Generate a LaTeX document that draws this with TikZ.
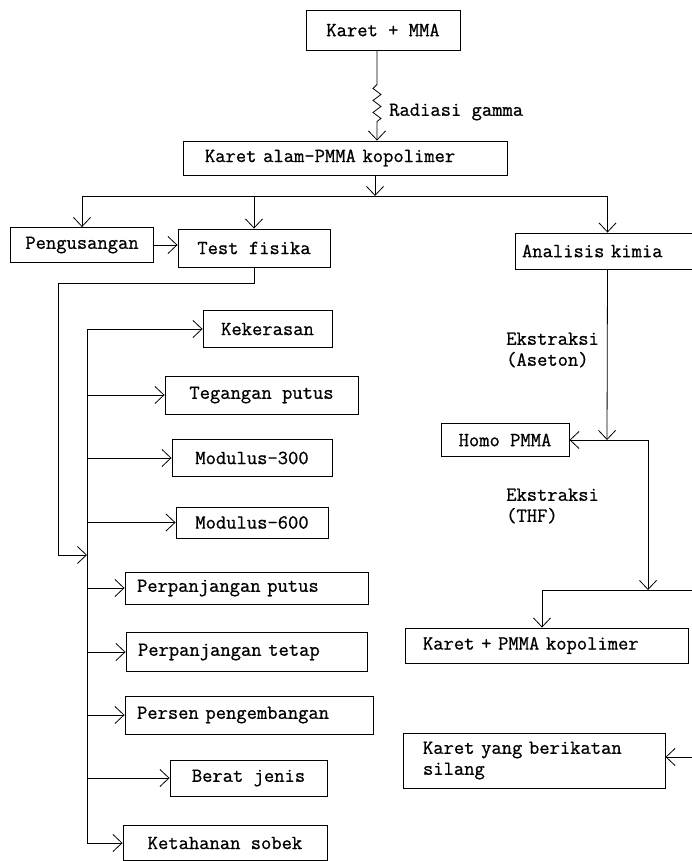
\documentclass[tikz,border=0pt]{standalone}
\usepackage{fontspec}
\newfontfamily\twfam[FakeBold=0.8]{Latin Modern Mono}
\newcommand\dgfont{\twfam\fontsize{20}{21}\selectfont}
\usetikzlibrary{arrows.meta,calc}
\begin{document}
\begin{tikzpicture}[x=1pt,y=-1pt,
  box/.style={draw, line width=0.9pt, rectangle, inner sep=0pt, font=\dgfont},
  lbox/.style={box, align=left, inner ysep=0pt},
  lbl/.style={inner sep=0pt, font=\dgfont, align=left},
  ln/.style={line width=0.8pt},
  arr/.style={line width=0.8pt, -{Straight Barb[length=9pt,width=17pt]}}]
\useasboundingbox (0,0) rectangle (692,861);

% top
\node[box, minimum width=154pt, minimum height=40pt] (mma) at (383,30) {Karet + MMA};
\node[lbox, inner xsep=22pt, text width=280pt, minimum height=34pt] (kalam) at (345,158) {Karet alam-PMMA kopolimer};
\node[box, minimum width=143pt, minimum height=35pt] (pengus) at (82,245) {Pengusangan};
\node[box, minimum width=152pt, minimum height=38pt] (test) at (254,248) {Test fisika};
\node[lbox, inner xsep=7pt, text width=171pt, minimum height=36pt] (analisis) at (607.5,251) {Analisis kimia};

% radiation arrow
\coordinate (zt) at ([xshift=-6pt]mma.south);
\draw[arr] (zt) -- ++(0,34) -- ++(-4,4) -- ++(8,6) -- ++(-8,6) -- ++(8,6) -- ++(-8,6) -- ++(8,6) -- ++(-4,3) -- (zt |- kalam.north);
\node[lbl, anchor=west] (rg) at (389,112) {Radiasi gamma};

% distribution line
\coordinate (hb) at (375,196);
\draw[arr] (kalam.south -| hb) -- (hb);
\draw[ln] (pengus.north |- hb) -- (analisis.north |- hb);
\draw[arr] (pengus.north |- hb) -- (pengus.north);
\draw[arr] (test.north |- hb) -- (test.north);
\draw[arr] (analisis.north |- hb) -- (analisis.north);
\draw[arr] (pengus.east) -- (pengus.east -| test.west);

% physical tests
\node[box, minimum width=129pt, minimum height=37pt] (kek) at (267.5,329) {Kekerasan};
\node[box, minimum width=193pt, minimum height=38pt] (teg) at (261.5,395) {Tegangan putus};
\node[box, minimum width=160pt, minimum height=37pt] (m300) at (252,458) {Modulus-300};
\node[box, minimum width=152pt, minimum height=31pt] (m600) at (252,522.5) {Modulus-600};
\node[lbox, inner xsep=12pt, text width=219pt, minimum height=32pt] (ppu) at (246.5,588) {Perpanjangan putus};
\node[lbox, inner xsep=12pt, text width=217pt, minimum height=39pt] (pte) at (246.5,652) {Perpanjangan tetap};
\node[lbox, inner xsep=12pt, text width=224pt, minimum height=38pt] (per) at (249,715) {Persen pengembangan};
\node[box, minimum width=157pt, minimum height=36pt] (bj) at (248.5,778) {Berat jenis};
\node[box, minimum width=204pt, minimum height=35pt] (ks) at (225,843) {Ketahanan sobek};

\coordinate (la) at (58,283);
\coordinate (lb) at (58,555);
\coordinate (tt) at (87,329);
\coordinate (tj) at (87,555);
\draw[arr] (test.south) |- (la) -- (lb) -- (tj);
\draw[arr] (tt) |- (ks.west);
\foreach \n in {kek,teg,m300,m600,ppu,pte,per,bj}
  \draw[arr] (tt |- \n.west) -- (\n.west);

% chemical analysis
\node[box, minimum width=128pt, minimum height=33pt] (homo) at (505,440) {Homo PMMA};
\node[lbl, anchor=west] (e1) at (506,350) {Ekstraksi\\(Aseton)};
\node[lbl, anchor=west] (e2) at (506,506) {Ekstraksi\\(THF)};
\node[lbox, inner xsep=18pt, text width=247pt, minimum height=35pt] (kp) at (546.5,645.5) {Karet + PMMA kopolimer};
\node[lbox, inner xsep=20pt, text width=222pt, minimum height=55pt] (kb) at (534,760.5) {Karet yang berikatan\\silang};

\coordinate (hj) at (607,440);
\coordinate (hr) at (648,440);
\coordinate (kj) at (648,590);
\coordinate (kl) at (542,590);
\coordinate (kr) at (700,590);
\coordinate (br) at (700,757);
\draw[arr] (analisis.south) -- (hj);
\draw[arr] (hr) -- (homo.east);
\draw[arr] (hr) -- (kj);
\draw[ln] (kl) -- (kr);
\draw[arr] (kl) -- (kp.north -| kl);
\draw[arr] (br) -- (kb.east |- br);
\end{tikzpicture}
\end{document}
